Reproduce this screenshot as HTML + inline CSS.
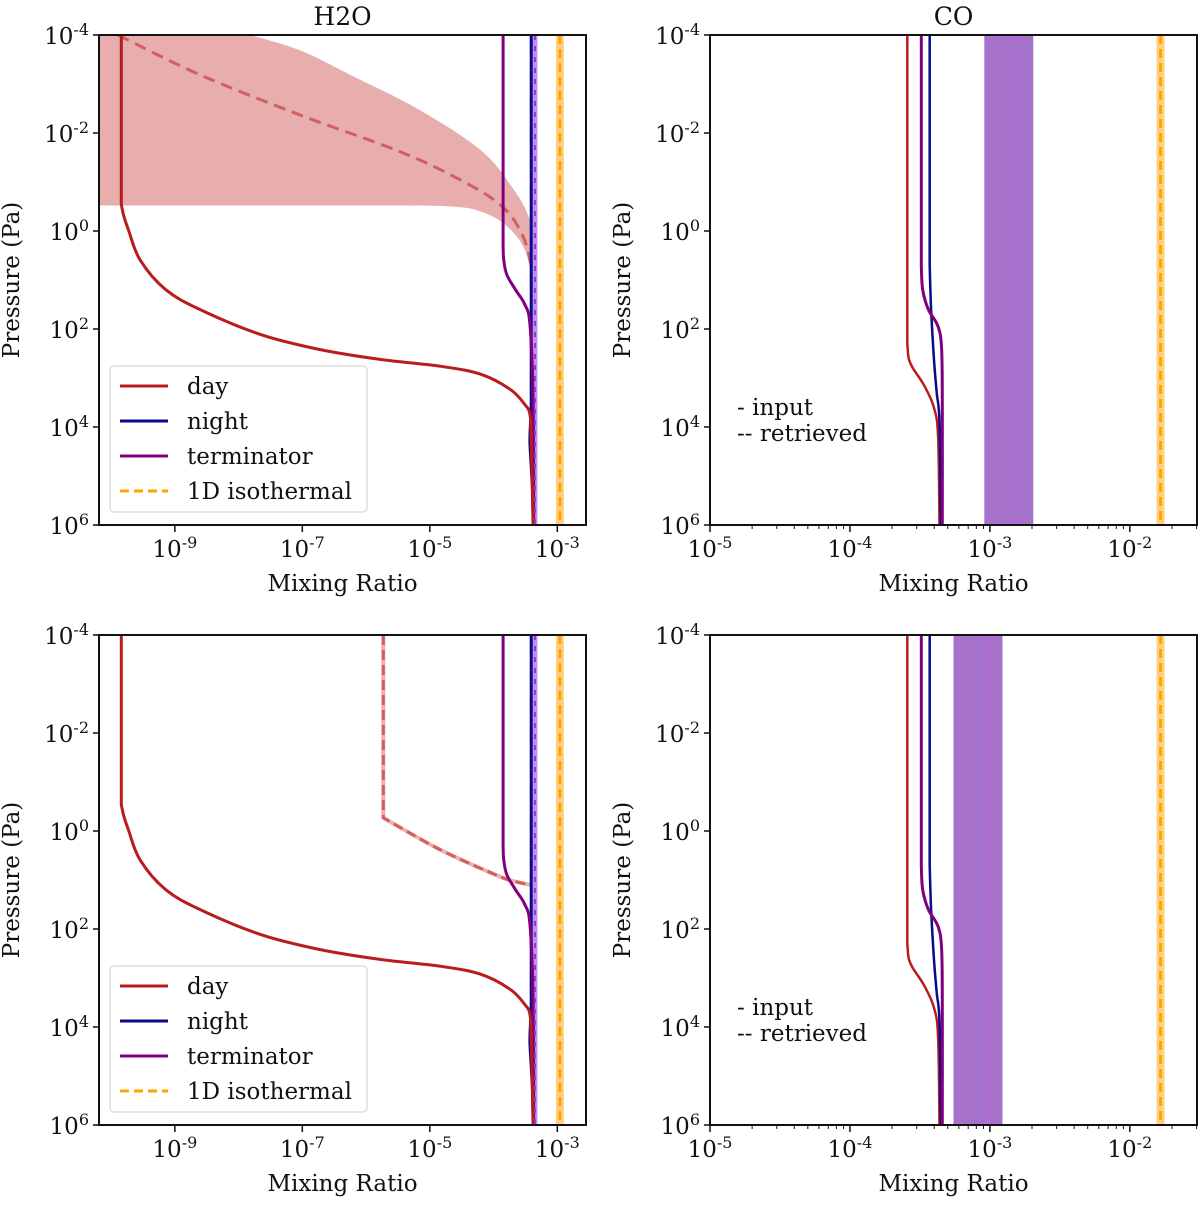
<!DOCTYPE html>
<html><head><meta charset="utf-8"><style>
body{margin:0;background:#fff}
svg text{font-family:"DejaVu Serif","Liberation Serif",serif;fill:#111}
</style></head><body>
<svg id="fig" width="1200" height="1200" xmlns="http://www.w3.org/2000/svg"></svg>
<script>
// ---- data (log10 mixing ratio, log10 pressure Pa) ----
const h2oDayX = [-9.84,-9.84,-9.80,-9.73,-9.55,-9.15,-8.61,-7.66,-6.72,-5.78,-4.84,-4.21,-3.74,-3.51,-3.43,-3.41,-3.38];
const h2oDayP = [-4,-0.54,-0.3,-0.03,0.58,1.19,1.6,2.11,2.42,2.62,2.76,2.92,3.23,3.54,3.74,4.25,6];
const h2oNightX = [-3.41,-3.41,-3.42,-3.43,-3.41,-3.39,-3.38];
const h2oNightP = [-4,3.5,3.9,4.3,4.8,5.3,6];
const h2oTermX = [-3.85,-3.85,-3.84,-3.79,-3.66,-3.51,-3.43,-3.38,-3.37];
const h2oTermP = [-4,0.3,0.6,0.9,1.19,1.5,1.9,3.43,6];
const h2oInputX = -3.35;
const isoH2O = -2.96;
const retTopX = [-9.89,-8.61,-7.04,-5.47,-4.53,-3.90,-3.59,-3.43,-3.38,-3.36];
const retTopP = [-4,-3.19,-2.37,-1.62,-1.05,-0.54,-0.03,0.58,1.4,6];
const bandUpX = [-10.19,-7.82,-7.04,-6.25,-5.16,-4.21,-3.74,-3.43,-3.32];
const bandUpP = [-4,-4,-3.69,-3.19,-2.47,-1.66,-0.95,-0.23,0.68];
const bandLoX = [-3.38,-3.51,-3.82,-4.21,-4.68,-6.0,-10.19];
const bandLoP = [1.19,0.38,-0.13,-0.4,-0.5,-0.52,-0.52];
const retBotX = [-5.73,-5.73,-4.84,-3.90,-3.6,-3.41];
const retBotP = [-4,-0.27,0.38,0.93,1.05,1.1];
const coDayX = [-3.59,-3.59,-3.58,-3.55,-3.47,-3.40,-3.37,-3.36];
const coDayP = [-4,2.3,2.6,2.8,3.15,3.6,4.2,6];
const coNightX = [-3.43,-3.43,-3.42,-3.40,-3.38,-3.36,-3.35];
const coNightP = [-4,0.7,1.6,2.6,3.3,3.9,6];
const coTermX = [-3.49,-3.49,-3.48,-3.44,-3.37,-3.345,-3.34,-3.34];
const coTermP = [-4,0.7,1.2,1.6,1.95,2.4,3.5,6];
const coBandTop = [-3.04,-2.69]; const coRetTop = -2.83;
const coBandBot = [-3.26,-2.91]; const coRetBot = -3.01;
const isoCO = -1.78;
const yTicks = [-4,-2,0,2,4,6];
const xTicksH2O = [-9,-7,-5,-3];
const xTicksCO = [-5,-4,-3,-2];

const svg = document.getElementById('fig');
const NS = 'http://www.w3.org/2000/svg';
function mk(tag, attrs, parent){const e=document.createElementNS(NS,tag);for(const k in attrs)e.setAttribute(k,attrs[k]);(parent||svg).appendChild(e);return e;}

function spline(pts, first){
  let d = first?'M':'L';
  d += pts[0][0].toFixed(1)+','+pts[0][1].toFixed(1);
  for(let i=0;i<pts.length-1;i++){
    const p0=pts[Math.max(0,i-1)],p1=pts[i],p2=pts[i+1],p3=pts[Math.min(pts.length-1,i+2)];
    const c1=[p1[0]+(p2[0]-p0[0])/6,p1[1]+(p2[1]-p0[1])/6];
    const c2=[p2[0]-(p3[0]-p1[0])/6,p2[1]-(p3[1]-p1[1])/6];
    d+='C'+c1[0].toFixed(1)+','+c1[1].toFixed(1)+' '+c2[0].toFixed(1)+','+c2[1].toFixed(1)+' '+p2[0].toFixed(1)+','+p2[1].toFixed(1);
  }
  return d;
}

function panel(name, x0, x1, y0, y1, xmin, xmax, opts){
  const g = mk('g',{});
  
  
  const sx = v => x0 + (v - xmin)/(xmax - xmin)*(x1 - x0);
  const sy = v => y0 + (v + 4)/10*(y1 - y0);
  const cid = name+'-clip';
  const cp = mk('clipPath',{id:cid},g); mk('rect',{x:x0,y:y0,width:x1-x0,height:y1-y0},cp);
  const plot = mk('g',{'clip-path':'url(#'+cid+')'},g);
  const path = (xs,ps)=>xs.map((v,i)=>(i?'L':'M')+sx(v).toFixed(1)+','+sy(ps[i]).toFixed(1)).join('');
  const spath = (xs,ps,first=true)=>spline(xs.map((v,i)=>[sx(v),sy(ps[i])]),first);
  // straight first segment, then smooth
  const vpath = (xs,ps)=>path(xs.slice(0,2),ps.slice(0,2))+spline(xs.slice(1).map((v,i)=>[sx(v),sy(ps[i+1])]),false);
  opts.draw(plot, sx, sy, path, spath, vpath);
  const fr = mk('rect',{x:x0,y:y0,width:x1-x0,height:y1-y0,fill:'none',stroke:'#111','stroke-width':2},g);
  
  
  yTicks.forEach(t=>{
    const y=sy(t);
    mk('line',{x1:x0-6,x2:x0,y1:y,y2:y,stroke:'#111','stroke-width':1.5},g);
    const tx = mk('text',{x:x0-10,y:y+9,'font-size':23,'text-anchor':'end'},g);
    
    
    tx.innerHTML = '10<tspan dy="-9" font-size="16">'+t+'</tspan>';
  });
  if(opts.minor){
    for(let d=Math.floor(xmin); d<xmax; d++){
      for(let m=2;m<10;m++){const v=d+Math.log10(m); if(v>xmin&&v<xmax){const x=sx(v);mk('line',{x1:x,x2:x,y1:y1,y2:y1+4,stroke:'#111','stroke-width':1},g);}}
    }
  }
  opts.xticks.forEach(t=>{
    const x=sx(t);
    mk('line',{x1:x,x2:x,y1:y1,y2:y1+7,stroke:'#111','stroke-width':1.5},g);
    const tx = mk('text',{x:x,y:y1+32,'font-size':23,'text-anchor':'middle'},g);
    
    
    tx.innerHTML = '10<tspan dy="-9" font-size="16">'+t+'</tspan>';
  });
  const xl = mk('text',{x:(x0+x1)/2,y:y1+66,'font-size':23,'text-anchor':'middle'},g);
  
  
  xl.textContent='Mixing Ratio';
  const yl = mk('text',{x:0,y:0,'font-size':23,'text-anchor':'middle',transform:'translate('+(x0-80)+','+((y0+y1)/2)+') rotate(-90)'},g);
  
  
  yl.textContent='Pressure (Pa)';
  if(opts.title){
    const tt = mk('text',{x:(x0+x1)/2,y:y0-10,'font-size':25,'text-anchor':'middle'},g);
    
    
    tt.textContent=opts.title;
  }
  if(opts.after) opts.after(g);
  return g;
}

function line(p,d,color,w,dash,nm){const e=mk('path',{d:d,fill:'none',stroke:color,'stroke-width':w,'stroke-linejoin':'round'},p);if(dash)e.setAttribute('stroke-dasharray',dash);return e;}

function h2oCommon(p,sx,sy,path,spath,vpath){
  line(p,path([isoH2O,isoH2O],[-4,6]),'#ffd080',8,null,'isothermal-band');
  line(p,path([isoH2O,isoH2O],[-4,6]),'#ffa500',3,'9,5','isothermal-line');
  line(p,path([h2oInputX,h2oInputX],[-4,6]),'#c08ef5',5,null,'input-line');
  line(p,vpath(h2oNightX,h2oNightP),'#0a0a8c',3,null,'night-line');
  line(p,vpath(h2oTermX,h2oTermP),'#800080',3,null,'terminator-line');
  line(p,vpath(h2oDayX,h2oDayP),'#b81c1c',3,null,'day-line');
  line(p,path([h2oInputX,h2oInputX],[-4,6]),'#9040b0',2,'5,6','input-dash');
}
function legend(g, y0){
  const lg = mk('g',{},g);
  
  
  mk('rect',{x:110,y:y0,width:257,height:146,rx:4,fill:'#fff','fill-opacity':0.85,stroke:'#ddd','stroke-width':1.5},lg);
  const items=[['day','#b81c1c',null],['night','#0a0a8c',null],['terminator','#800080',null],['1D isothermal','#ffa500','9,5']];
  items.forEach((it,i)=>{
    const y=y0+20+35*i;
    const l=mk('line',{x1:120,x2:168,y1:y,y2:y,stroke:it[1],'stroke-width':3},lg);
    if(it[2]) l.setAttribute('stroke-dasharray',it[2]);
    const t=mk('text',{x:187,y:y+8,'font-size':23},lg);
    
    
    t.textContent=it[0];
  });
}
const tl = panel('h2o-top', 99, 586, 35, 525, -10.19, -2.55, {title:'H2O', xticks:xTicksH2O,
  draw:(p,sx,sy,path,spath,vpath)=>{
    const d = vpath(bandUpX,bandUpP)+spath(bandLoX,bandLoP,false)+'Z';
    const b=mk('path',{d:d,fill:'#e8adad',stroke:'none'},p);
    
    
    line(p,spath(retTopX,retTopP),'#d06060',3,'12,7','retrieved-line');
    h2oCommon(p,sx,sy,path,spath,vpath);
  }});
legend(tl,366);
const bl = panel('h2o-bottom', 99, 586, 635, 1125, -10.19, -2.55, {xticks:xTicksH2O,
  draw:(p,sx,sy,path,spath,vpath)=>{
    const d = vpath(retBotX,retBotP);
    line(p,d,'#f0b0b0',4,null,'retrieved-under');
    line(p,d,'#d06060',3,'10,5','retrieved-line');
    h2oCommon(p,sx,sy,path,spath,vpath);
  }});
legend(bl,966);

function coPanel(name,y0,y1,band,ret,title){
  panel(name, 710, 1197, y0, y1, -5, -1.52, {title:title, xticks:xTicksCO, minor:true,
    draw:(p,sx,sy,path,spath,vpath)=>{
      const b=mk('rect',{x:sx(band[0]),y:sy(-4),width:sx(band[1])-sx(band[0]),height:sy(6)-sy(-4),fill:'#a772cc'},p);
      
      
      line(p,path([ret,ret],[-4,6]),'#c860e0',2,'9,6','retrieved-line');
      line(p,path([isoCO,isoCO],[-4,6]),'#ffd080',8,null,'isothermal-band');
      line(p,path([isoCO,isoCO],[-4,6]),'#ffa500',3,'9,5','isothermal-line');
      line(p,vpath(coDayX,coDayP),'#b81c1c',2.5,null,'day-line');
      line(p,vpath(coNightX,coNightP),'#0a0a8c',2.5,null,'night-line');
      line(p,vpath(coTermX,coTermP),'#800080',3,null,'terminator-line');
    },
    after:g=>{
      const a=mk('text',{x:737,y:y0+380,'font-size':23},g);a.textContent='-  input';
      
      
      a.setAttribute('xml:space','preserve');
      const r=mk('text',{x:737,y:y0+406,'font-size':23},g);r.textContent='-- retrieved';
      
      
    }});
}
coPanel('co-top',35,525,coBandTop,coRetTop,'CO');
coPanel('co-bottom',635,1125,coBandBot,coRetBot,null);
</script>
</body></html>
